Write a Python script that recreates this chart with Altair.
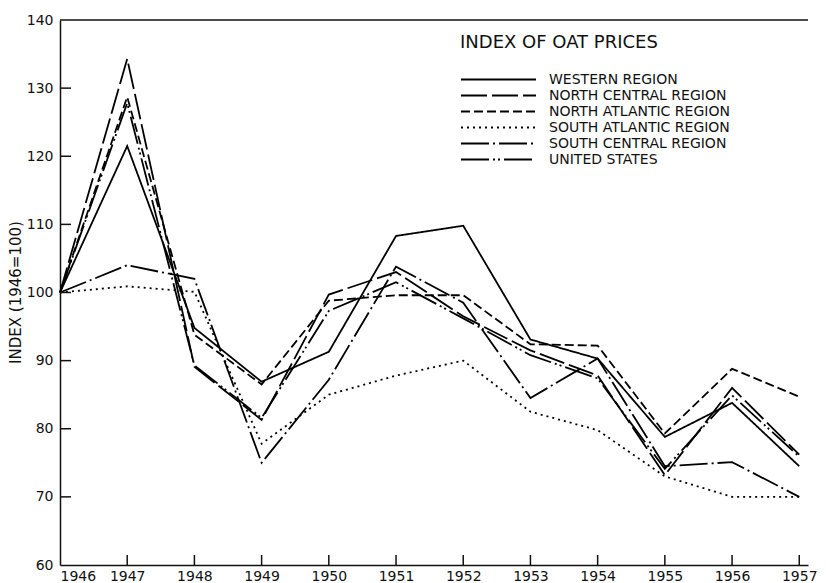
import altair as alt
import pandas as pd

years = [1946, 1947, 1948, 1949, 1950, 1951, 1952, 1953, 1954, 1955, 1956, 1957]
regions = ["WESTERN REGION", "NORTH CENTRAL REGION", "NORTH ATLANTIC REGION",
           "SOUTH ATLANTIC REGION", "SOUTH CENTRAL REGION", "UNITED STATES"]
western = [100, 121.5, 94.8, 86.9, 91.3, 108.3, 109.8, 93.1, 90.3, 78.8, 83.8, 74.5]
north_central = [100, 134.3, 89.1, 81.3, 99.7, 103.0, 96.5, 91.5, 87.8, 73.2, 86.0, 76.2]
north_atlantic = [100, 128.7, 93.8, 86.5, 98.8, 99.6, 99.6, 92.4, 92.2, 79.3, 88.8, 84.7]
south_atlantic = [100, 100.9, 100.1, 77.8, 85.0, 87.8, 90.0, 82.5, 79.8, 73.0, 70.0, 70.0]
south_central = [100, 104.0, 102.0, 75.0, 87.2, 103.8, 98.5, 84.5, 90.3, 74.5, 75.1, 70.0]
united_states = [100, 127.8, 89.3, 81.6, 97.3, 101.5, 96.2, 90.8, 87.4, 74.1, 84.9, 75.9]
dashes = [[1, 0], [26, 5], [9, 4], [2, 4], [28, 4, 2, 4], [28, 4, 2, 3, 2, 4]]

y_tick_values = [60, 70, 80, 90, 100, 110, 120, 130, 140]
inner_y_ticks = [70, 80, 90, 100, 110, 120, 130]
inner_x_ticks = years[1:]

series = [western, north_central, north_atlantic, south_atlantic, south_central, united_states]
rows = []
for name, vals in zip(regions, series):
    for yr, v in zip(years, vals):
        rows.append({"year": yr, "region": name, "value": v})
df = pd.DataFrame(rows)

FONT = "DejaVu Sans"
W, H = 748, 545
xscale = alt.Scale(domain=[1946, 1957.13], nice=False, zero=False)
yscale = alt.Scale(domain=[60, 140], nice=False, zero=False)

xaxis = alt.Axis(values=years, format="d", title=None, grid=False,
                 ticks=False, tickSize=0, labelPadding=4,
                 labelFontSize=14, labelFont=FONT, labelColor="#111",
                 domainColor="#111", domainWidth=1.5)
yaxis = alt.Axis(values=y_tick_values, title="INDEX (1946=100)", grid=False,
                 ticks=False, tickSize=0, labelPadding=7,
                 labelFontSize=14, labelFont=FONT, labelColor="#111",
                 domainColor="#111", domainWidth=1.5,
                 titleFont=FONT, titleFontSize=15, titleFontWeight="normal",
                 titleColor="#111", titleX=-45, titleY=272,
                 titleAlign="center", titleBaseline="middle", titleAngle=270)

lines = alt.Chart(df).mark_line(color="black", strokeWidth=1.8).encode(
    x=alt.X("year:Q", scale=xscale, axis=xaxis),
    y=alt.Y("value:Q", scale=yscale, axis=yaxis),
    strokeDash=alt.StrokeDash(
        "region:N",
        scale=alt.Scale(domain=regions, range=dashes),
        sort=regions,
        legend=alt.Legend(
            title="INDEX OF OAT PRICES", orient="none", legendX=400, legendY=14,
            titleFont=FONT, titleFontSize=18, titleFontWeight="normal", titleColor="#111",
            titlePadding=19, titleBaseline="top", titleLimit=500,
            labelFont=FONT, labelFontSize=14, labelColor="#111", labelOffset=72,
            symbolType="M-1,0H9", symbolSize=225, symbolStrokeWidth=1.8,
            symbolStrokeColor="black", symbolFillColor="transparent",
            rowPadding=-0.6, labelLimit=400,
        ),
    ),
    detail="region:N",
)

xticks = alt.Chart(pd.DataFrame({"year": inner_x_ticks})).mark_rule(
    color="#111", strokeWidth=1.5).encode(
    x=alt.X("year:Q", scale=xscale, axis=xaxis),
    y=alt.value(H - 10), y2=alt.value(H),
)
yticks = alt.Chart(pd.DataFrame({"value": inner_y_ticks})).mark_rule(
    color="#111", strokeWidth=1.5).encode(
    y=alt.Y("value:Q", scale=yscale, axis=yaxis),
    x=alt.value(0), x2=alt.value(11),
)
top_border = alt.Chart(pd.DataFrame({"value": [140]})).mark_rule(
    color="#111", strokeWidth=1.5).encode(
    y=alt.Y("value:Q", scale=yscale, axis=yaxis),
    x=alt.value(0), x2=alt.value(W),
)

chart = alt.layer(lines, xticks, yticks, top_border).properties(
    width=W, height=H,
    autosize=alt.AutoSizeParams(type="none"),
    padding={"left": 52, "top": 12, "right": 10, "bottom": 18},
    background="white",
).configure_view(stroke=None)

chart.save("out.html", embed_options={"renderer": "svg", "actions": False})
